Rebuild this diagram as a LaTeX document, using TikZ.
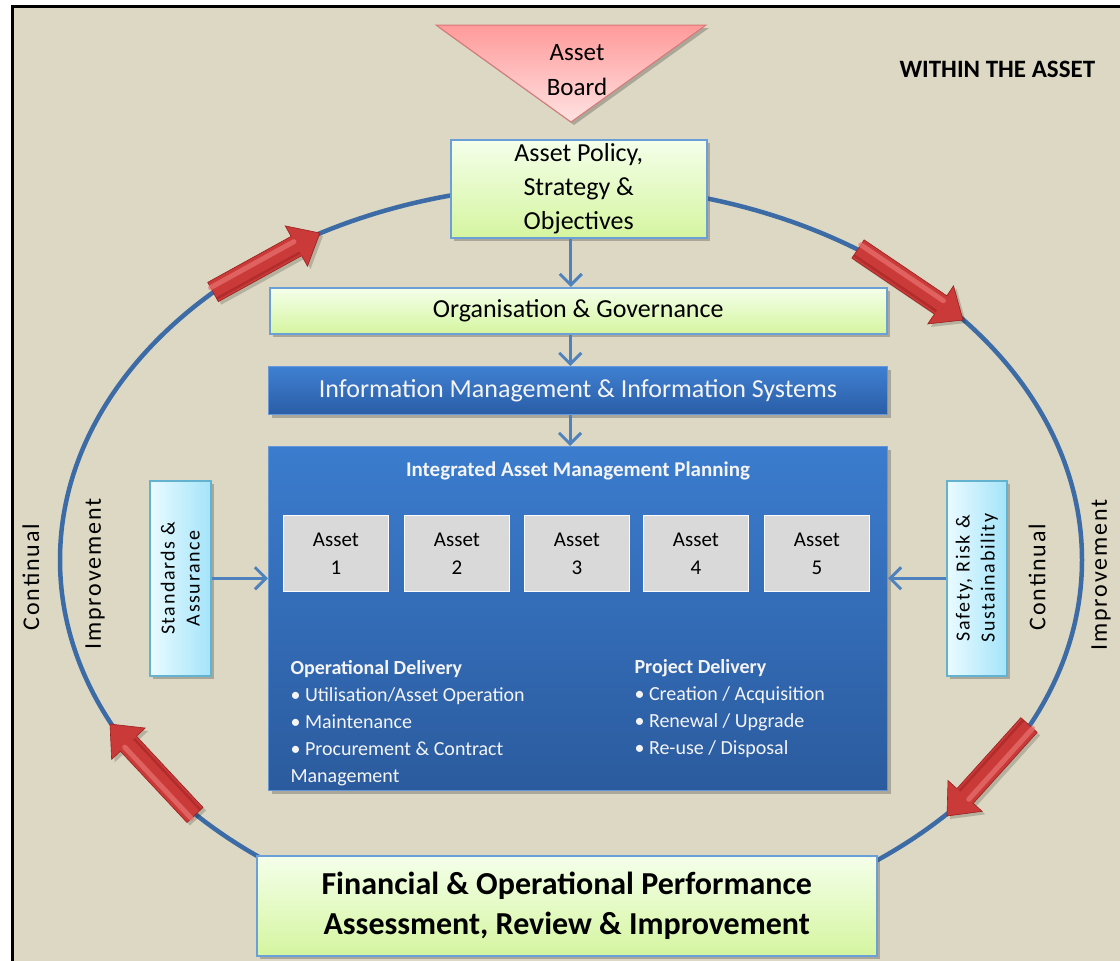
\documentclass[tikz,border=0pt]{standalone}
\usepackage{fontspec}
\setmainfont{Carlito}
\newfontfamily\spaced{Carlito}[LetterSpace=8]
\usetikzlibrary{arrows.meta,shadows,calc}
\definecolor{bgc}{HTML}{DDD8C3}
\definecolor{ellblue}{HTML}{3D6BA5}
\definecolor{boxblue}{HTML}{6A9FD8}
\definecolor{greenA}{HTML}{F4FFEA}
\definecolor{greenB}{HTML}{D5F5A0}
\definecolor{blueA}{HTML}{3F80D2}
\definecolor{blueB}{HTML}{2A5DA6}
\definecolor{bigA}{HTML}{3B7CCE}
\definecolor{bigB}{HTML}{2B5B9E}
\definecolor{assetfill}{HTML}{D9D9D9}
\definecolor{cyanA}{HTML}{EAFBFF}
\definecolor{cyanB}{HTML}{A4E4FA}
\definecolor{cyanborder}{HTML}{62B2D0}
\definecolor{triA}{HTML}{FF9A9A}
\definecolor{triB}{HTML}{FFE2E2}
\definecolor{triborder}{HTML}{D87878}
\definecolor{arrowred}{HTML}{C93A38}
\definecolor{arrowhi}{HTML}{E97472}
\definecolor{arrowdark}{HTML}{9A2020}
\definecolor{conn}{HTML}{4F81BD}
\definecolor{whitetext}{HTML}{F4F4F4}
\newcommand{\redarr}[2]{%
  \coordinate (#1-n) at ($(#2)!27pt!(#1)$);
  \fill[black,opacity=0.18,transform canvas={shift={(3pt,-3pt)}}]
    ($(#1)!11pt!90:(#2)$) -- ($(#1-n)!11pt!-90:(#1)$) -- ($(#1-n)!23pt!-90:(#1)$) -- (#2)
    -- ($(#1-n)!23pt!90:(#1)$) -- ($(#1-n)!11pt!90:(#1)$) -- ($(#1)!11pt!-90:(#2)$) -- cycle;
  \fill[arrowred,draw=arrowdark,line width=0.6pt]
    ($(#1)!11pt!90:(#2)$) -- ($(#1-n)!11pt!-90:(#1)$) -- ($(#1-n)!23pt!-90:(#1)$) -- (#2)
    -- ($(#1-n)!23pt!90:(#1)$) -- ($(#1-n)!11pt!90:(#1)$) -- ($(#1)!11pt!-90:(#2)$) -- cycle;
  \draw[arrowhi,line width=5pt,opacity=0.7,line cap=round]
    ($(#1)!5pt!90:(#2)$) -- ($(#1-n)!5pt!-90:(#1)$);
  \draw[arrowdark,line width=2.5pt,opacity=0.5]
    ($(#1)!7.5pt!-90:(#2)$) -- ($(#1-n)!7.5pt!90:(#1)$);
}
\begin{document}
\begin{tikzpicture}[x=1pt,y=-1pt,
  shad/.style={drop shadow={shadow xshift=3pt,shadow yshift=-3pt,opacity=0.35,fill=black!70}},
  greenbox/.style={draw=boxblue,line width=1.5pt,top color=greenA,bottom color=greenB,shad,
    inner sep=0pt,align=center,text=black},
  bluebox/.style={draw=blueA!80!white,line width=1pt,top color=blueA,bottom color=blueB,shad,
    inner sep=0pt,align=center,text=whitetext},
  bigbox/.style={draw=bigA!80!white,line width=1pt,top color=bigA,bottom color=bigB,shad,inner sep=0pt},
  assetbox/.style={draw=white!90!assetfill,line width=0.8pt,fill=assetfill,minimum width=105pt,
    minimum height=76pt,inner sep=0pt,align=center,anchor=north west,
    font=\fontsize{21}{28}\selectfont},
  cyanbox/.style={draw=cyanborder,line width=1.5pt,left color=cyanA,right color=cyanB,shad,
    inner sep=0pt,anchor=north west,minimum height=195pt},
  sidetext/.style={rotate=90,align=center,font=\spaced\fontsize{20}{25}\selectfont},
  cilabel/.style={rotate=90,font=\spaced\fontsize{24}{28}\selectfont},
  conn arrow/.style={draw=conn,line width=3pt,-{Straight Barb[length=11pt,width=22pt]}},
  wtext/.style={text=whitetext,align=left,anchor=west,font=\fontsize{20}{27}\selectfont}]
\useasboundingbox (0,0) rectangle (1120,961);
\fill[white] (0,0) rectangle (1120,961);
\fill[bgc] (12,6) rectangle (1120,961);
\draw[line width=3pt] (12,961) -- (12,6) -- (1120,6);
% cycle ellipse
\draw[ellblue,line width=4.5pt] (571,560) ellipse [x radius=511,y radius=375];
% red arrows
\coordinate (ulT) at (213,292);
\coordinate (ulH) at (320,233);
\coordinate (urT) at (858,249);
\coordinate (urH) at (963,320);
\coordinate (lrT) at (1029,725);
\coordinate (lrH) at (947,816);
\coordinate (llT) at (195,815);
\coordinate (llH) at (110,724);
\redarr{ulT}{ulH}
\redarr{urT}{urH}
\redarr{lrT}{lrH}
\redarr{llT}{llH}
% triangle
\path[draw=triborder,line width=1pt,top color=triA,bottom color=triB,shad]
  (436,25) -- (706,25) -- (571,122) -- cycle;
\node[align=center,font=\fontsize{25}{35}\selectfont] (board) at (577,70) {Asset\\Board};
\node[font=\bfseries\fontsize{25}{28}\selectfont,anchor=west] (within) at (896,69) {WITHIN THE ASSET};
% main boxes
\node[greenbox,anchor=north west,minimum width=256pt,minimum height=98pt,
  font=\fontsize{26}{34}\selectfont] (policy) at (450,139) {Asset Policy,\\Strategy \&\\Objectives};
\node[greenbox,anchor=north west,minimum width=617pt,minimum height=46pt,
  font=\fontsize{26}{30}\selectfont] (org) at (269,287) {Organisation \& Governance};
\node[bluebox,anchor=north west,minimum width=619pt,minimum height=48pt,
  font=\fontsize{26}{30}\selectfont] (info) at (268,366) {Information Management \& Information Systems};
\node[bigbox,anchor=north west,minimum width=619pt,minimum height=344pt] (iamp) at (268,446) {};
\node[text=whitetext,font=\bfseries\fontsize{21}{26}\selectfont] (iamptitle) at (578,471)
  {Integrated Asset Management Planning};
\node[assetbox] (a1) at (283,515) {Asset\\1};
\node[assetbox] (a2) at (404,515) {Asset\\2};
\node[assetbox] (a3) at (524,515) {Asset\\3};
\node[assetbox] (a4) at (643,515) {Asset\\4};
\node[assetbox] (a5) at (764,515) {Asset\\5};
\node[wtext] (opdel) at (287,723) {\textbf{Operational Delivery}\\
  • Utilisation/Asset Operation\\ • Maintenance\\ • Procurement \& Contract\\ Management};
\node[wtext] (projdel) at (631,709) {\textbf{Project Delivery}\\
  • Creation / Acquisition\\ • Renewal / Upgrade\\ • Re-use / Disposal};
% side boxes
\node[cyanbox,minimum width=61pt] (std) at (149,480) {};
\node[sidetext] (stdtext) at (std.center) {Standards \&\\Assurance};
\node[cyanbox,minimum width=60pt] (safe) at (946,480) {};
\node[sidetext] (safetext) at (safe.center) {Safety, Risk \&\\Sustainability};
% bottom box
\node[greenbox,anchor=north west,minimum width=620pt,minimum height=100pt,
  font=\bfseries\fontsize{32}{40}\selectfont] (perf) at (256,855)
  {Financial \& Operational Performance\\Assessment, Review \& Improvement};
% continual improvement labels
\node[cilabel] (ciL1) at (31,577) {Continual};
\node[cilabel] (ciL2) at (95,574) {Improvement};
\node[cilabel] (ciR1) at (1037,577) {Continual};
\node[cilabel] (ciR2) at (1101,575) {Improvement};
% connectors
\draw[conn arrow] ([xshift=-8pt]policy.south) -- ([xshift=-8pt]policy.south |- org.north);
\draw[conn arrow] ([xshift=-8pt]org.south) -- ([xshift=-8pt]org.south |- info.north);
\draw[conn arrow] ([xshift=-8pt]info.south) -- ([xshift=-8pt]info.south |- iamp.north);
\draw[conn arrow] (std.east) -- (std.east -| iamp.west);
\draw[conn arrow] (safe.west) -- (safe.west -| iamp.east);
\end{tikzpicture}
\end{document}
